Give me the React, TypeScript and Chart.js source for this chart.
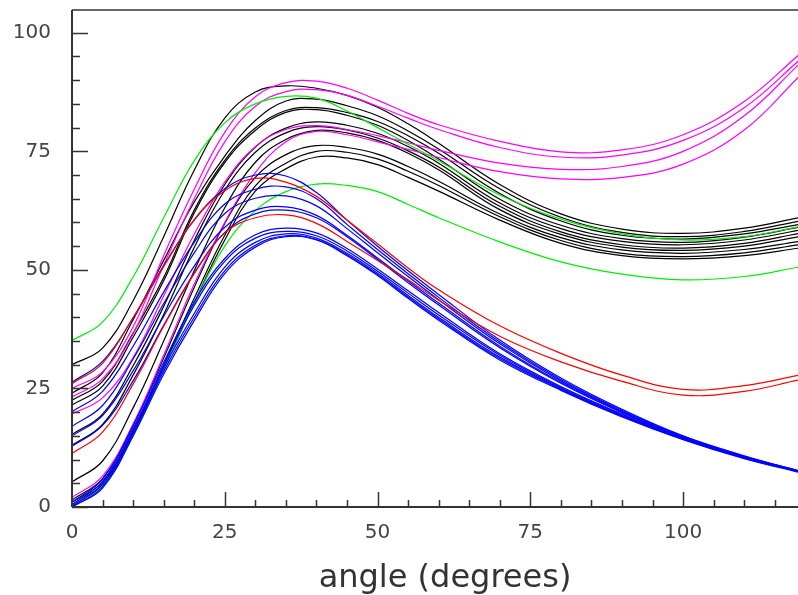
import { useEffect, useRef } from 'react';
import { Chart, registerables } from 'chart.js';

Chart.register(...registerables);

const X_TITLE = 'angle (degrees)';
const X_TICK_LABELS = [0, 25, 50, 75, 100];
const Y_TICK_LABELS = [0, 25, 50, 75, 100];

const angles = [0, 5, 10, 15, 20, 25, 30, 35, 40, 45, 50, 55, 60, 70, 80, 90, 100, 110, 119];

const black1 = [30, 33.5, 43.5, 57, 71, 82, 87.5, 88.8, 88.3, 86.8, 84.3, 80.8, 76.7, 68, 61.8, 58.6, 57.7, 58.8, 61.0];
const black2 = [24, 28.3, 39.5, 52, 64.3, 74, 81.5, 85.6, 86, 84.6, 82.5, 79.3, 75.5, 67.1, 61.1, 57.9, 57.0, 58.1, 60.3];
const black3 = [22.5, 26.5, 36.7, 48.4, 62.6, 73.1, 79.9, 83.6, 84.2, 83.2, 81.3, 78.3, 74.6, 66.1, 60.3, 57.3, 56.5, 57.6, 59.6];
const black4 = [21.5, 25.5, 35.8, 47.7, 62, 72.6, 79.4, 83.2, 83.8, 82.6, 80.5, 77.3, 73.4, 64.9, 59.4, 56.6, 55.8, 56.9, 59.0];
const black5 = [15.3, 19.6, 29.8, 42.3, 56.2, 68, 75.9, 79.9, 81.2, 80.5, 78.8, 76, 72.5, 64.1, 58.7, 56.0, 55.3, 56.3, 58.4];
const black6 = [13, 17.4, 27.8, 40.6, 54.7, 66.8, 74.8, 78.9, 80.2, 79.5, 77.8, 75.1, 71.7, 63.4, 58.0, 55.3, 54.6, 55.6, 57.7];
const black7 = [5.3, 9.7, 20.9, 35, 49.8, 63.1, 72.7, 77.5, 79.4, 78.9, 77.3, 74.6, 71.1, 62.7, 57.5, 54.8, 54.1, 55, 57.0];
const black8 = [1.5, 6, 17.2, 31.4, 46.3, 59.8, 69.5, 74.3, 76.2, 75.8, 74.4, 71.8, 68.7, 61.8, 56.8, 54.2, 53.5, 54.3, 56.0];
const black9 = [1, 5.3, 15.8, 29.9, 44, 57.3, 67.7, 72.5, 75, 74.8, 73.4, 70.8, 67.8, 61.2, 56.2, 53.5, 52.8, 53.6, 55.3];
const black10 = [0.5, 4.8, 15.2, 29.1, 43.1, 56.3, 66.6, 71.3, 73.8, 73.6, 72.2, 69.5, 66.6, 60.5, 55.6, 53.0, 52.3, 53.0, 54.6];

const magenta1 = [25, 28.5, 38, 53, 67, 79, 86.5, 89.5, 89.8, 88.3, 85.8, 83, 80.6, 77.1, 74.9, 75.3, 78.5, 85.5, 95.4];
const magenta2 = [23.2, 27, 36.5, 51, 65, 77, 84.5, 87.6, 88, 86.8, 84.5, 82, 79.6, 75.8, 73.8, 74.2, 77.3, 84.2, 94.2];
const magenta3 = [19.6, 23, 31.5, 44.5, 57.5, 68.5, 76, 79.6, 80.4, 79.6, 78.3, 76.8, 75.2, 72.5, 71.2, 71.8, 75, 82.5, 93.4];
const magenta4 = [2, 6.5, 17.5, 32, 47, 60, 70.5, 77, 79.2, 78.5, 77, 75.4, 73.7, 70.7, 69.2, 69.5, 72.3, 79.5, 90.8];

const green1 = [35.1, 39, 48.5, 61, 73, 81, 85, 86.6, 86.2, 83.5, 80, 76.5, 73, 65.8, 60.7, 57.6, 56.3, 57, 59.1];
const green2 = [0.5, 4.5, 15, 29, 43, 55, 62.5, 66.5, 68.1, 67.8, 66.5, 63.8, 61, 55.9, 51.7, 49.1, 47.9, 48.6, 50.6];

const red1 = [26, 30.3, 39.9, 50.7, 60.6, 66.7, 69.3, 68.5, 65.5, 60.5, 55.5, 50.4, 45.8, 38.2, 32.4, 27.8, 24.8, 25.6, 27.8];
const red2 = [11.3, 15.8, 25.9, 38.1, 49.2, 57.8, 61, 61.6, 59.8, 56, 52, 47.9, 43.6, 36, 30.6, 26.5, 23.6, 24.4, 26.8];

const blue1 = [26.3, 30.7, 39.9, 50.9, 60.5, 67.1, 70, 69.8, 66.3, 60.5, 55, 49.8, 44.8, 35.2, 27.2, 20.6, 15.0, 10.8, 7.6];
const blue2 = [20.1, 24.4, 33.9, 45.3, 55.8, 63.9, 67, 67.5, 65, 59.6, 54.3, 49.2, 44.2, 34.8, 26.9, 20.4, 14.9, 10.7, 7.6];
const blue3 = [17.0, 21.4, 31.2, 42.9, 53.6, 61.9, 65.1, 65.6, 63.5, 58.7, 53.6, 48.6, 43.7, 34.4, 26.6, 20.2, 14.8, 10.6, 7.6];
const blue4 = [15.0, 19.3, 28.7, 40.2, 50.8, 59, 62.6, 63.3, 61.5, 57.3, 52.5, 47.7, 43.0, 33.9, 26.3, 20.0, 14.7, 10.5, 7.5];
const blue5 = [12.8, 17.2, 26.6, 38.3, 49.3, 57.9, 61.8, 62.6, 61, 57, 52.2, 47.3, 42.6, 33.6, 26.1, 19.9, 14.6, 10.5, 7.5];
const blue6 = [1.0, 5.9, 17.2, 30.5, 43.2, 52.4, 57.4, 58.8, 57.8, 54.5, 50.2, 45.6, 41, 32.3, 25.4, 19.6, 14.5, 10.5, 7.5];
const blue7 = [0.5, 5.4, 16.6, 29.9, 42.5, 51.8, 56.7, 58.1, 57.2, 54, 49.7, 45.1, 40.5, 32.0, 25.2, 19.5, 14.4, 10.4, 7.5];
const blue8 = [0.2, 4.8, 16.2, 29.3, 40.8, 50.6, 55.8, 57.6, 56.7, 53.5, 49.3, 44.6, 40, 31.6, 25.0, 19.3, 14.3, 10.4, 7.5];
const blue9 = [0, 4.3, 15.6, 28.6, 40, 49.8, 55.2, 57.2, 56.4, 53.2, 49, 44.3, 39.7, 31.3, 24.8, 19.2, 14.3, 10.3, 7.4];
const blue10 = [0, 4.0, 15.0, 28.0, 39.3, 49.2, 54.8, 57.0, 56.3, 53.0, 48.8, 44.0, 39.4, 31.0, 24.6, 19.0, 14.2, 10.2, 7.3];

const RED = '#ff0000';
const BLUE = '#0000ff';
const GREEN = '#00ee00';
const MAGENTA = '#ff00ff';
const BLACK = '#000000';

const seriesList: { values: number[]; color: string }[] = [
  { values: red1, color: RED },
  { values: red2, color: RED },
  { values: blue1, color: BLUE },
  { values: blue2, color: BLUE },
  { values: blue3, color: BLUE },
  { values: blue4, color: BLUE },
  { values: blue5, color: BLUE },
  { values: blue6, color: BLUE },
  { values: blue7, color: BLUE },
  { values: blue8, color: BLUE },
  { values: blue9, color: BLUE },
  { values: blue10, color: BLUE },
  { values: green1, color: GREEN },
  { values: green2, color: GREEN },
  { values: magenta1, color: MAGENTA },
  { values: magenta2, color: MAGENTA },
  { values: magenta3, color: MAGENTA },
  { values: magenta4, color: MAGENTA },
  { values: black1, color: BLACK },
  { values: black2, color: BLACK },
  { values: black3, color: BLACK },
  { values: black4, color: BLACK },
  { values: black5, color: BLACK },
  { values: black6, color: BLACK },
  { values: black7, color: BLACK },
  { values: black8, color: BLACK },
  { values: black9, color: BLACK },
  { values: black10, color: BLACK },
];

const decoPlugin = {
  id: 'decoPlugin',
  afterDraw(chart: any) {
    const { ctx, chartArea } = chart;
    const xs = chart.scales.x;
    const ys = chart.scales.y;
    const { left, right, top, bottom } = chartArea;
    ctx.save();
    ctx.strokeStyle = '#333333';
    ctx.lineWidth = 1.5;
    ctx.beginPath();
    ctx.moveTo(left, top);
    ctx.lineTo(right, top);
    ctx.stroke();
    ctx.lineWidth = 2;
    ctx.beginPath();
    ctx.moveTo(left, top);
    ctx.lineTo(left, bottom);
    ctx.stroke();
    ctx.lineWidth = 1.8;
    ctx.beginPath();
    ctx.moveTo(left, bottom);
    ctx.lineTo(right, bottom);
    ctx.stroke();
    ctx.lineWidth = 1.5;
    for (let v = 0; v <= ys.max; v += 5) {
      const py = Math.round(ys.getPixelForValue(v)) + 0.5;
      const len = v % 25 === 0 ? 16 : 8;
      ctx.beginPath();
      ctx.moveTo(left, py);
      ctx.lineTo(left + len, py);
      ctx.stroke();
    }
    for (let v = 5; v <= xs.max; v += 5) {
      const px = Math.round(xs.getPixelForValue(v)) + 0.5;
      const len = v % 25 === 0 ? 15 : 7;
      ctx.beginPath();
      ctx.moveTo(px, bottom);
      ctx.lineTo(px, bottom - len);
      ctx.stroke();
    }
    ctx.fillStyle = '#333333';
    ctx.font = '32px "DejaVu Sans"';
    ctx.textAlign = 'center';
    ctx.textBaseline = 'alphabetic';
    ctx.fillText(X_TITLE, (left + right) / 2 + 10, 587);
    ctx.restore();
  },
};

export default function App() {
  const canvasRef = useRef<HTMLCanvasElement | null>(null);

  useEffect(() => {
    if (!canvasRef.current) return;
    const datasets = seriesList.map((s) => ({
      data: s.values.map((y, i) => ({ x: angles[i], y })),
      borderColor: s.color,
      backgroundColor: s.color,
      borderWidth: 1.2,
      pointRadius: 0,
      fill: false,
      tension: 0.4,
    }));
    const chart = new Chart(canvasRef.current, {
      type: 'line',
      data: { datasets },
      options: {
        animation: false,
        responsive: false,
        maintainAspectRatio: false,
        devicePixelRatio: 1,
        layout: { padding: { top: 10, left: 0, right: 0, bottom: 0 } },
        plugins: {
          legend: { display: false },
          tooltip: { enabled: false },
          title: { display: false },
        },
        scales: {
          x: {
            type: 'linear',
            min: 0,
            max: 118.8,
            grid: { display: false, drawTicks: false },
            border: { display: false },
            ticks: {
              stepSize: 25,
              includeBounds: false,
              autoSkip: false,
              maxRotation: 0,
              padding: 14,
              color: '#444444',
              font: { family: 'DejaVu Sans', size: 20 },
              callback: (v: any) => (X_TICK_LABELS.includes(Number(v)) ? String(v) : ''),
            },
            afterFit: (scale: any) => {
              scale.height = 88;
              scale.paddingLeft = 0;
              scale.paddingRight = 0;
            },
          },
          y: {
            type: 'linear',
            min: 0,
            max: 104.8,
            grid: { display: false, drawTicks: false },
            border: { display: false },
            ticks: {
              stepSize: 25,
              includeBounds: false,
              padding: 21,
              color: '#444444',
              font: { family: 'DejaVu Sans', size: 20 },
              callback: (v: any) => (Y_TICK_LABELS.includes(Number(v)) ? String(v) : ''),
            },
            afterFit: (scale: any) => {
              scale.width = 72;
              scale.paddingTop = 0;
              scale.paddingBottom = 0;
            },
          },
        },
      },
      plugins: [decoPlugin],
    });
    return () => chart.destroy();
  }, []);

  return (
    <div style={{ position: 'fixed', left: 0, top: 0, width: 798, height: 595, background: '#ffffff' }}>
      <canvas ref={canvasRef} width={798} height={595} style={{ width: 798, height: 595, display: 'block' }} />
    </div>
  );
}
